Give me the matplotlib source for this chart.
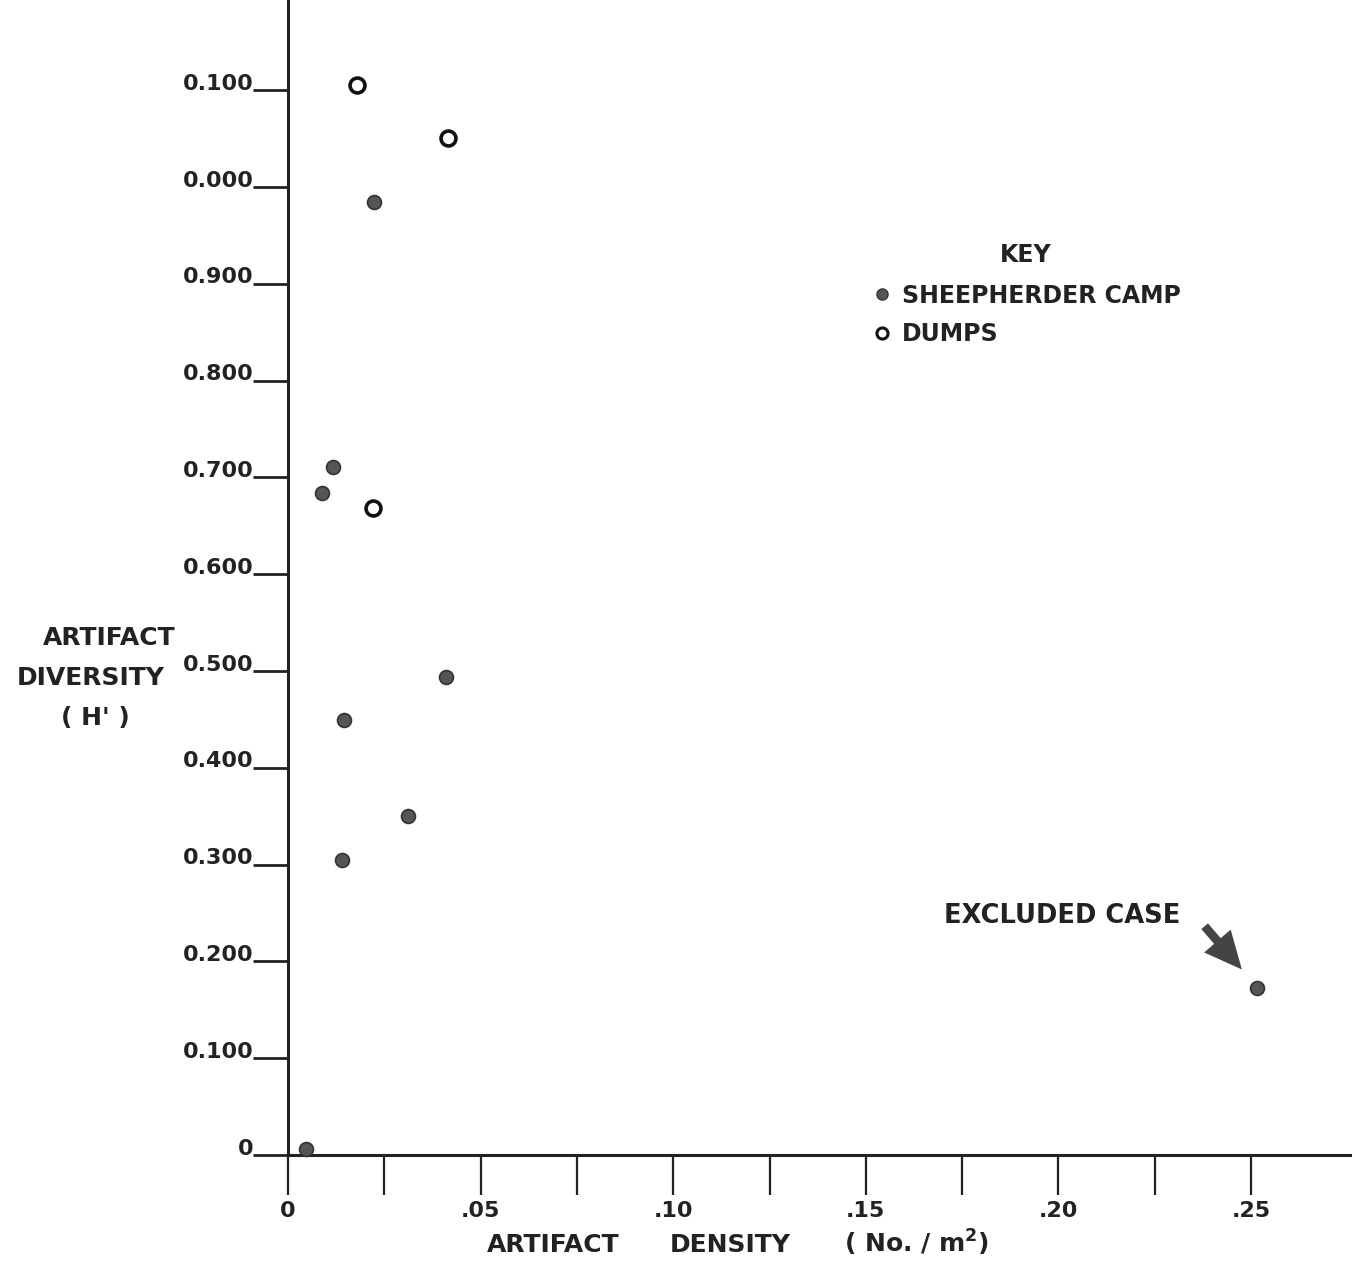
"""
Artifact diversity vs artifact density scatter (sheepherder camps and dumps)
"""

import matplotlib
matplotlib.use('Agg')
import matplotlib.pyplot as plt
import matplotlib.transforms as mtransforms
from matplotlib.lines import Line2D

# sheepherder camps (filled dots)
camp_density = [0.0223, 0.0117, 0.0088, 0.0410, 0.0145, 0.0312, 0.0140, 0.0047, 0.2516]
camp_diversity = [0.985, 0.711, 0.684, 0.494, 0.449, 0.350, 0.305, 0.006, 0.1725]

# dumps (open circles)
dump_density = [0.0179, 0.0415, 0.0221]
dump_diversity = [1.105, 1.051, 0.668]

# the odd one out, pointed at by the arrow
excluded = (0.2516, 0.1725)

y_ticks = [0.0, 0.1, 0.2, 0.3, 0.4, 0.5, 0.6, 0.7, 0.8, 0.9, 1.0, 1.1]
y_labels = ['0', '0.100', '0.200', '0.300', '0.400', '0.500', '0.600',
            '0.700', '0.800', '0.900', '0.000', '0.100']
x_ticks = [0.0, 0.025, 0.05, 0.075, 0.10, 0.125, 0.15, 0.175, 0.20, 0.225, 0.25]
x_labels = ['0', '', '.05', '', '.10', '', '.15', '', '.20', '', '.25']

INK = '#222222'
DOT = '#555555'
W, H = 1354, 1265

plt.rcParams['font.family'] = ['DejaVu Sans']
plt.rcParams['font.weight'] = 'bold'

fig = plt.figure(figsize=(W / 100, H / 100), dpi=100)
ax = fig.add_axes([288 / W, 1 - 1155 / H, (1350 - 288) / W, 1155 / H])

ax.set_xlim(0, 1062 / 3852)
ax.set_ylim(0, 1155 / 968)

for side in ('top', 'right'):
    ax.spines[side].set_visible(False)
for side in ('left', 'bottom'):
    ax.spines[side].set_linewidth(2.2)
    ax.spines[side].set_color(INK)

ax.scatter(camp_density, camp_diversity, s=100, c=DOT, edgecolors='#333333',
           linewidths=1.2, zorder=3, clip_on=False)
ax.scatter(dump_density, dump_diversity, s=115, facecolors='white',
           edgecolors='#111111', linewidths=2.6, zorder=3, clip_on=False)

ax.set_yticks(y_ticks)
ax.set_yticklabels(y_labels, fontsize=16, color=INK, fontweight='bold')
ax.tick_params(axis='y', direction='out', length=25, width=2, color=INK, pad=0)
# labels sit on top of the tick line, like they are underlined
shift = mtransforms.ScaledTranslation(0, 6 / 72, fig.dpi_scale_trans)
for lab in ax.get_yticklabels():
    lab.set_transform(lab.get_transform() + shift)

ax.set_xticks(x_ticks)
ax.set_xticklabels(x_labels, fontsize=16, color=INK, fontweight='bold')
ax.tick_params(axis='x', direction='out', length=29, width=1.6, color=INK, pad=4)

# axis titles
title_kw = dict(ha='center', va='center', fontsize=18, color=INK, fontweight='bold')
fig.text(109 / W, 1 - 638 / H, 'ARTIFACT', **title_kw)
fig.text(91 / W, 1 - 678 / H, 'DIVERSITY', **title_kw)
fig.text(95 / W, 1 - 718 / H, "( H' )", **title_kw)

fig.text(553 / W, 1 - 1245 / H, 'ARTIFACT', **title_kw)
fig.text(730 / W, 1 - 1245 / H, 'DENSITY', **title_kw)
fig.text(916 / W, 1 - 1243 / H, r'( No. / m$^{\mathbf{2}}$)', **title_kw)

# key
handles = [
    Line2D([], [], ls='none', marker='o', ms=8, mfc=DOT, mec='#333333', mew=1),
    Line2D([], [], ls='none', marker='o', ms=8, mfc='white', mec='#111111', mew=2.2),
]
leg = fig.legend(handles, ['SHEEPHERDER CAMP', 'DUMPS'], title='KEY',
                 loc='upper left', bbox_to_anchor=(870 / W, 1 - 243 / H),
                 frameon=False, fontsize=17, title_fontsize=17,
                 handletextpad=0.35, handlelength=1.0, labelspacing=0.62,
                 borderaxespad=0, borderpad=0)
leg.get_title().set_fontweight('bold')
leg.get_title().set_color(INK)
leg._legend_box.sep = 12
for t in leg.get_texts():
    t.set_color(INK)
    t.set_fontweight('bold')

# excluded case note
ax.text(0.2009, 0.2469, 'EXCLUDED CASE', ha='center', va='center',
        fontsize=18.5, color=INK, fontweight='bold')
ax.annotate('', xy=(excluded[0] - 0.0035, excluded[1] + 0.017),
            xytext=(excluded[0] - 0.0141, excluded[1] + 0.066),
            arrowprops=dict(arrowstyle='simple,head_width=1.4,head_length=1.5,tail_width=0.35',
                            mutation_scale=18, color='#444444', lw=0))

fig.savefig('out.png', dpi=100, facecolor='white')
